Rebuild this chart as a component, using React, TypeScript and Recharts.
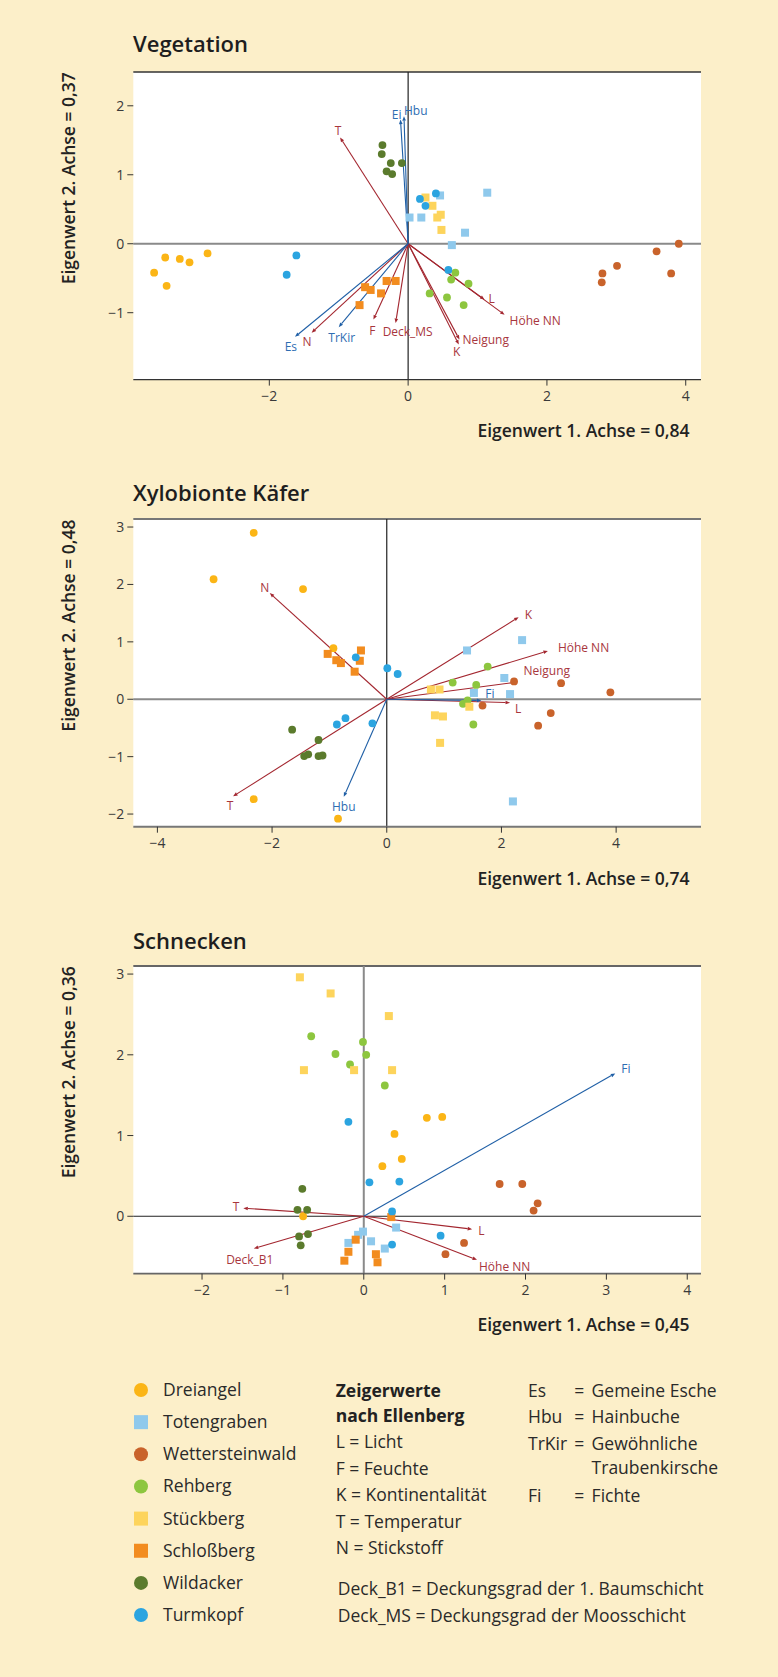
import React from "react";
import { ScatterChart, Scatter, XAxis, YAxis, ReferenceLine, CartesianGrid } from "recharts";

const BG = "#FCEFC9";
const FONT = '"Open Sans", "Noto Sans", sans-serif';
const RED = "#A3262F";
const RED_TEXT = "#A8363D";
const BLUE = "#1F5FA6";
const BLUE_TEXT = "#2E6DB2";

type Pt = [number, number];
type Place = [string, number, number];

// sites (legend order)
const sites = ["Dreiangel", "Totengraben", "Wettersteinwald", "Rehberg", "Stückberg", "Schloßberg", "Wildacker", "Turmkopf"];
const siteColors = ["#FBB516", "#8FC9EC", "#C9632B", "#8DC63F", "#FDD45C", "#F28C1F", "#5B7B2D", "#2BA4E0"];
const siteShapes = ["circle", "square", "circle", "circle", "square", "square", "circle", "circle"];

// --- Vegetation ---
const vegDreiangel: Pt[] = [[-3.66, -0.42], [-3.5, -0.2], [-3.48, -0.61], [-3.29, -0.22], [-3.15, -0.27], [-2.89, -0.14]];
const vegTotengraben: Pt[] = [[0.02, 0.38], [0.19, 0.38], [0.46, 0.7], [1.14, 0.74], [0.82, 0.16], [0.63, -0.02]];
const vegWetterstein: Pt[] = [[3.9, 0.0], [3.58, -0.11], [3.01, -0.32], [2.8, -0.43], [2.79, -0.56], [3.79, -0.43]];
const vegRehberg: Pt[] = [[0.31, -0.72], [0.68, -0.42], [0.62, -0.52], [0.87, -0.58], [0.56, -0.78], [0.8, -0.89]];
const vegStueckberg: Pt[] = [[0.25, 0.67], [0.35, 0.55], [0.47, 0.42], [0.42, 0.38], [0.48, 0.2]];
const vegSchlossberg: Pt[] = [[-0.31, -0.54], [-0.18, -0.54], [-0.62, -0.63], [-0.54, -0.67], [-0.39, -0.72], [-0.7, -0.89]];
const vegWildacker: Pt[] = [[-0.37, 1.43], [-0.38, 1.3], [-0.25, 1.17], [-0.09, 1.17], [-0.31, 1.05], [-0.23, 1.01]];
const vegTurmkopf: Pt[] = [[-1.61, -0.17], [-1.75, -0.45], [0.17, 0.65], [0.25, 0.55], [0.4, 0.73], [0.58, -0.38]];

const vegEnvLabels = ["T", "N", "F", "Deck_MS", "K", "Neigung", "L", "Höhe NN"];
const vegEnvX = [-0.98, -1.39, -0.5, -0.18, 0.73, 0.74, 1.1, 1.39];
const vegEnvY = [1.54, -1.29, -1.1, -1.15, -1.46, -1.39, -0.81, -1.03];
const vegSpecLabels = ["Ei", "Hbu", "Es", "TrKir"];
const vegSpecX = [-0.11, -0.06, -1.63, -1.0];
const vegSpecY = [1.8, 1.85, -1.35, -1.21];

// --- Xylobionte Käfer ---
const xyDreiangel: Pt[] = [[-2.32, 2.9], [-3.02, 2.09], [-1.46, 1.92], [-0.93, 0.89], [-2.32, -1.74], [-0.85, -2.08]];
const xyTotengraben: Pt[] = [[1.4, 0.85], [2.36, 1.03], [2.05, 0.37], [1.52, 0.11], [2.15, 0.09], [2.2, -1.78]];
const xyWetterstein: Pt[] = [[2.22, 0.31], [3.04, 0.28], [3.9, 0.12], [1.67, -0.11], [2.86, -0.24], [2.64, -0.46]];
const xyRehberg: Pt[] = [[1.76, 0.57], [1.15, 0.29], [1.56, 0.25], [1.41, -0.02], [1.33, -0.08], [1.51, -0.44]];
const xyStueckberg: Pt[] = [[0.77, 0.17], [0.92, 0.17], [0.84, -0.28], [0.98, -0.3], [0.93, -0.76], [1.44, -0.13]];
const xySchlossberg: Pt[] = [[-1.03, 0.79], [-0.88, 0.68], [-0.8, 0.63], [-0.45, 0.85], [-0.47, 0.67], [-0.56, 0.48]];
const xyWildacker: Pt[] = [[-1.65, -0.53], [-1.19, -0.71], [-1.44, -0.99], [-1.37, -0.96], [-1.19, -0.99], [-1.12, -0.98]];
const xyTurmkopf: Pt[] = [[-0.54, 0.73], [0.01, 0.54], [0.19, 0.44], [-0.72, -0.33], [-0.87, -0.44], [-0.25, -0.42]];

const xyEnvLabels = ["N", "T", "K", "Höhe NN", "Neigung", "L"];
const xyEnvX = [-2.04, -2.68, 2.3, 2.81, 2.28, 2.15];
const xyEnvY = [1.85, -1.69, 1.43, 0.84, 0.3, -0.06];
const xySpecLabels = ["Hbu", "Fi"];
const xySpecX = [-0.75, 1.65];
const xySpecY = [-1.7, -0.02];

// --- Schnecken ---
const snDreiangel: Pt[] = [[0.78, 1.22], [0.97, 1.23], [0.38, 1.02], [0.47, 0.71], [0.23, 0.62], [-0.75, 0.0]];
const snTotengraben: Pt[] = [[-0.19, -0.33], [-0.07, -0.23], [-0.01, -0.19], [0.09, -0.31], [0.26, -0.4], [0.4, -0.14]];
const snWetterstein: Pt[] = [[1.68, 0.4], [1.96, 0.4], [2.15, 0.16], [2.1, 0.07], [1.24, -0.33], [1.01, -0.47]];
const snRehberg: Pt[] = [[-0.65, 2.23], [-0.35, 2.01], [-0.17, 1.88], [-0.01, 2.16], [0.03, 2.0], [0.26, 1.62]];
const snStueckberg: Pt[] = [[-0.79, 2.96], [-0.41, 2.76], [0.31, 2.48], [-0.74, 1.81], [-0.12, 1.81], [0.35, 1.81]];
const snSchlossberg: Pt[] = [[0.34, -0.01], [-0.1, -0.29], [-0.19, -0.44], [-0.24, -0.55], [0.15, -0.47], [0.17, -0.57]];
const snWildacker: Pt[] = [[-0.76, 0.34], [-0.82, 0.08], [-0.7, 0.08], [-0.8, -0.25], [-0.69, -0.22], [-0.78, -0.36]];
const snTurmkopf: Pt[] = [[-0.19, 1.17], [0.07, 0.42], [0.44, 0.43], [0.35, 0.06], [0.35, -0.35], [0.95, -0.24]];

const snEnvLabels = ["T", "Deck_B1", "L", "Höhe NN"];
const snEnvX = [-1.49, -1.36, 1.34, 1.4];
const snEnvY = [0.1, -0.4, -0.16, -0.54];
const snSpecLabels = ["Fi"];
const snSpecX = [3.11];
const snSpecY = [1.77];

// legend texts
const zeigerLines = ["L = Licht", "F = Feuchte", "K = Kontinentalität", "T = Temperatur", "N = Stickstoff"];
const speciesAbbr = ["Es", "Hbu", "TrKir", "", "Fi"];
const speciesNames = ["Gemeine Esche", "Hainbuche", "Gewöhnliche", "Traubenkirsche", "Fichte"];
const deckLines = ["Deck_B1 = Deckungsgrad der 1. Baumschicht", "Deck_MS = Deckungsgrad der Moosschicht"];

// label placement of the arrow tips: [anchor, dx, dy] in px
const vegPlaces: Record<string, Place> = {
  Ei: ["end", 1, -1], Hbu: ["start", 0, -1], T: ["middle", -2, -3], Es: ["end", 2, 14], N: ["end", 0, 13],
  TrKir: ["middle", 3, 15], F: ["middle", -1, 15], Deck_MS: ["start", -13, 13], K: ["middle", -2, 12],
  Neigung: ["start", 3, 4], L: ["start", 4, 3], "Höhe NN": ["start", 5, 10],
};
const xyPlaces: Record<string, Place> = {
  N: ["middle", -5, -1], T: ["middle", -3, 14], Hbu: ["middle", 0, 14], K: ["start", 6, 2],
  "Höhe NN": ["start", 10, 1], Neigung: ["start", 6, -7], Fi: ["start", 4, -2], L: ["start", 5, 10],
};
const snPlaces: Record<string, Place> = {
  Fi: ["start", 6, 0], T: ["end", -4, 3], Deck_B1: ["middle", -4, 15], L: ["start", 6, 6], "Höhe NN": ["start", 2, 11],
};

const fmt = (v: number) => String(v).replace("-", "\u2212");

function arrowShape(label: string, color: string, textColor: string, place: Place) {
  return (p: any) => {
    const { x1, y1, x2, y2 } = p;
    const dx = x2 - x1;
    const dy = y2 - y1;
    const len = Math.hypot(dx, dy) || 1;
    const ux = dx / len;
    const uy = dy / len;
    const hl = 4.5;
    const hw = 1.8;
    const bx = x2 - ux * hl;
    const by = y2 - uy * hl;
    const pts = `${x2},${y2} ${bx - uy * hw},${by + ux * hw} ${bx + uy * hw},${by - ux * hw}`;
    return (
      <g>
        <line x1={x1} y1={y1} x2={bx} y2={by} stroke={color} strokeWidth={1.1} />
        <polygon points={pts} fill={color} />
        <text x={x2 + place[1]} y={y2 + place[2]} textAnchor={place[0] as any} fill={textColor} fontSize={12} fontFamily={FONT}>
          {label}
        </text>
      </g>
    );
  };
}

const markerShape = (kind: string, color: string) => (p: any) =>
  kind === "circle" ? (
    <circle cx={p.cx} cy={p.cy} r={3.9} fill={color} />
  ) : (
    <rect x={p.cx - 4} y={p.cy - 4} width={8} height={8} fill={color} />
  );

interface LineStyle { stroke: string; width: number }
interface PanelProps {
  plotTop: number;
  plotBottom: number;
  xDomain: [number, number];
  yDomain: [number, number];
  xTicks: number[];
  yTicks: number[];
  series: Pt[][];
  envLabels: string[]; envX: number[]; envY: number[];
  specLabels: string[]; specX: number[]; specY: number[];
  places: Record<string, Place>;
  hZero: LineStyle; vZero: LineStyle; frame: LineStyle;
}

const PLOT_LEFT = 133.3;
const PLOT_RIGHT = 701;
const tickStyle = { fontSize: 14, fill: "#3a3a3a", fontFamily: FONT };

function Panel(p: PanelProps) {
  const padTop = 60;
  const padBottom = 40;
  const axisH = 30;
  const axisW = 40;
  const height = p.plotBottom - p.plotTop + padTop + padBottom + axisH;
  return (
    <div style={{ position: "absolute", left: 0, top: p.plotTop - padTop }}>
      <ScatterChart
        width={778}
        height={height}
        margin={{ top: padTop, right: 778 - PLOT_RIGHT, bottom: padBottom, left: PLOT_LEFT - axisW }}
      >
        <CartesianGrid fill="#ffffff" horizontal={false} vertical={false} stroke="none" />
        <XAxis
          type="number"
          dataKey="x"
          domain={p.xDomain}
          ticks={p.xTicks}
          interval={0}
          allowDataOverflow
          height={axisH}
          tickSize={6}
          tickMargin={5}
          axisLine={{ stroke: p.frame.stroke, strokeWidth: p.frame.width }}
          tickLine={{ stroke: "#333" }}
          tick={tickStyle}
          tickFormatter={fmt}
        />
        <YAxis
          type="number"
          dataKey="y"
          domain={p.yDomain}
          ticks={p.yTicks}
          interval={0}
          allowDataOverflow
          width={axisW}
          tickSize={6}
          tickMargin={3}
          axisLine={false}
          tickLine={{ stroke: "#333" }}
          tick={tickStyle}
          tickFormatter={fmt}
        />
        <ReferenceLine y={p.yDomain[1]} stroke={p.frame.stroke} strokeWidth={p.frame.width} />
        <ReferenceLine y={0} stroke={p.hZero.stroke} strokeWidth={p.hZero.width} />
        <ReferenceLine x={0} stroke={p.vZero.stroke} strokeWidth={p.vZero.width} />
        {p.envLabels.map((l, i) => (
          <ReferenceLine
            key={"e" + l}
            segment={[{ x: 0, y: 0 }, { x: p.envX[i], y: p.envY[i] }]}
            shape={arrowShape(l, RED, RED_TEXT, p.places[l])}
          />
        ))}
        {p.specLabels.map((l, i) => (
          <ReferenceLine
            key={"s" + l}
            segment={[{ x: 0, y: 0 }, { x: p.specX[i], y: p.specY[i] }]}
            shape={arrowShape(l, BLUE, BLUE_TEXT, p.places[l])}
          />
        ))}
        {p.series.map((pts, i) => (
          <Scatter
            key={sites[i]}
            name={sites[i]}
            data={pts.map(([x, y]) => ({ x, y }))}
            shape={markerShape(siteShapes[i], siteColors[i])}
            isAnimationActive={false}
          />
        ))}
      </ScatterChart>
    </div>
  );
}

const charts = [
  {
    title: "Vegetation", titleY: 52.3, yLabel: "Eigenwert 2. Achse = 0,37", xLabel: "Eigenwert 1. Achse = 0,84",
    props: {
      plotTop: 71.7, plotBottom: 379.3, xDomain: [-3.96, 4.22] as [number, number], yDomain: [-1.97, 2.49] as [number, number],
      xTicks: [-2, 0, 2, 4], yTicks: [-1, 0, 1, 2],
      series: [vegDreiangel, vegTotengraben, vegWetterstein, vegRehberg, vegStueckberg, vegSchlossberg, vegWildacker, vegTurmkopf],
      envLabels: vegEnvLabels, envX: vegEnvX, envY: vegEnvY,
      specLabels: vegSpecLabels, specX: vegSpecX, specY: vegSpecY, places: vegPlaces,
      hZero: { stroke: "#8a8a8a", width: 2 }, vZero: { stroke: "#222", width: 1.2 }, frame: { stroke: "#333", width: 1.3 },
    },
  },
  {
    title: "Xylobionte Käfer", titleY: 500.7, yLabel: "Eigenwert 2. Achse = 0,48", xLabel: "Eigenwert 1. Achse = 0,74",
    props: {
      plotTop: 519, plotBottom: 826.7, xDomain: [-4.42, 5.48] as [number, number], yDomain: [-2.22, 3.14] as [number, number],
      xTicks: [-4, -2, 0, 2, 4], yTicks: [-2, -1, 0, 1, 2, 3],
      series: [xyDreiangel, xyTotengraben, xyWetterstein, xyRehberg, xyStueckberg, xySchlossberg, xyWildacker, xyTurmkopf],
      envLabels: xyEnvLabels, envX: xyEnvX, envY: xyEnvY,
      specLabels: xySpecLabels, specX: xySpecX, specY: xySpecY, places: xyPlaces,
      hZero: { stroke: "#8a8a8a", width: 2 }, vZero: { stroke: "#222", width: 1.2 }, frame: { stroke: "#777", width: 2 },
    },
  },
  {
    title: "Schnecken", titleY: 949.3, yLabel: "Eigenwert 2. Achse = 0,36", xLabel: "Eigenwert 1. Achse = 0,45",
    props: {
      plotTop: 965.7, plotBottom: 1273.3, xDomain: [-2.85, 4.17] as [number, number], yDomain: [-0.71, 3.1] as [number, number],
      xTicks: [-2, -1, 0, 1, 2, 3, 4], yTicks: [0, 1, 2, 3],
      series: [snDreiangel, snTotengraben, snWetterstein, snRehberg, snStueckberg, snSchlossberg, snWildacker, snTurmkopf],
      envLabels: snEnvLabels, envX: snEnvX, envY: snEnvY,
      specLabels: snSpecLabels, specX: snSpecX, specY: snSpecY, places: snPlaces,
      hZero: { stroke: "#222", width: 1.2 }, vZero: { stroke: "#8a8a8a", width: 2 }, frame: { stroke: "#666", width: 1.8 },
    },
  },
];

function LText({ x, y, bold, children }: { x: number; y: number; bold?: boolean; children: React.ReactNode }) {
  return (
    <text x={x} y={y} fontSize={17.5} fontWeight={bold ? 700 : 400} fill={bold ? "#222" : "#2a2a2a"} fontFamily={FONT}>
      {children}
    </text>
  );
}

function Overlay() {
  const legendY0 = 1390;
  const legendStep = 32.15;
  const speciesY = [1397.3, 1423.3, 1450, 1474.3, 1501.7];
  return (
    <svg width={778} height={1677} style={{ position: "absolute", left: 0, top: 0, pointerEvents: "none" }}>
      {charts.map((c) => (
        <g key={c.title}>
          <text x={133} y={c.titleY} fontSize={22} fontWeight={600} fill="#1e1e1e" fontFamily={FONT}>
            {c.title}
          </text>
          <text
            transform={`translate(74.5, ${c.props.plotTop + 0.5}) rotate(-90)`}
            textAnchor="end"
            fontSize={17.5}
            fontWeight={600}
            fill="#222"
            fontFamily={FONT}
          >
            {c.yLabel}
          </text>
          <text x={689.5} y={c.props.plotBottom + 58} textAnchor="end" fontSize={17.5} fontWeight={600} fill="#222" fontFamily={FONT}>
            {c.xLabel}
          </text>
        </g>
      ))}

      {/* site legend */}
      {sites.map((s, i) => {
        const cy = legendY0 + i * legendStep;
        return (
          <g key={s}>
            {siteShapes[i] === "circle" ? (
              <circle cx={141} cy={cy} r={7} fill={siteColors[i]} />
            ) : (
              <rect x={134} y={cy - 7} width={14} height={14} fill={siteColors[i]} />
            )}
            <LText x={163} y={cy + 6}>{s}</LText>
          </g>
        );
      })}

      {/* Zeigerwerte */}
      <LText x={335.7} y={1397.3} bold>Zeigerwerte</LText>
      <LText x={335.7} y={1421.7} bold>nach Ellenberg</LText>
      {zeigerLines.map((t, i) => (
        <LText key={t} x={335.7} y={1448.3 + i * 26.4}>{t}</LText>
      ))}
      {deckLines.map((t, i) => (
        <LText key={t} x={337.8} y={1595 + i * 26.7}>{t}</LText>
      ))}

      {/* species abbreviations */}
      {speciesNames.map((n, i) => (
        <g key={n}>
          <LText x={528} y={speciesY[i]}>{speciesAbbr[i]}</LText>
          {speciesAbbr[i] ? <LText x={574.3} y={speciesY[i]}>=</LText> : null}
          <LText x={591.6} y={speciesY[i]}>{n}</LText>
        </g>
      ))}
    </svg>
  );
}

export default function App() {
  return (
    <div style={{ position: "absolute", left: 0, top: 0, width: 778, height: 1677, background: BG, overflow: "hidden" }}>
      {charts.map((c) => (
        <Panel key={c.title} {...c.props} />
      ))}
      <Overlay />
    </div>
  );
}
